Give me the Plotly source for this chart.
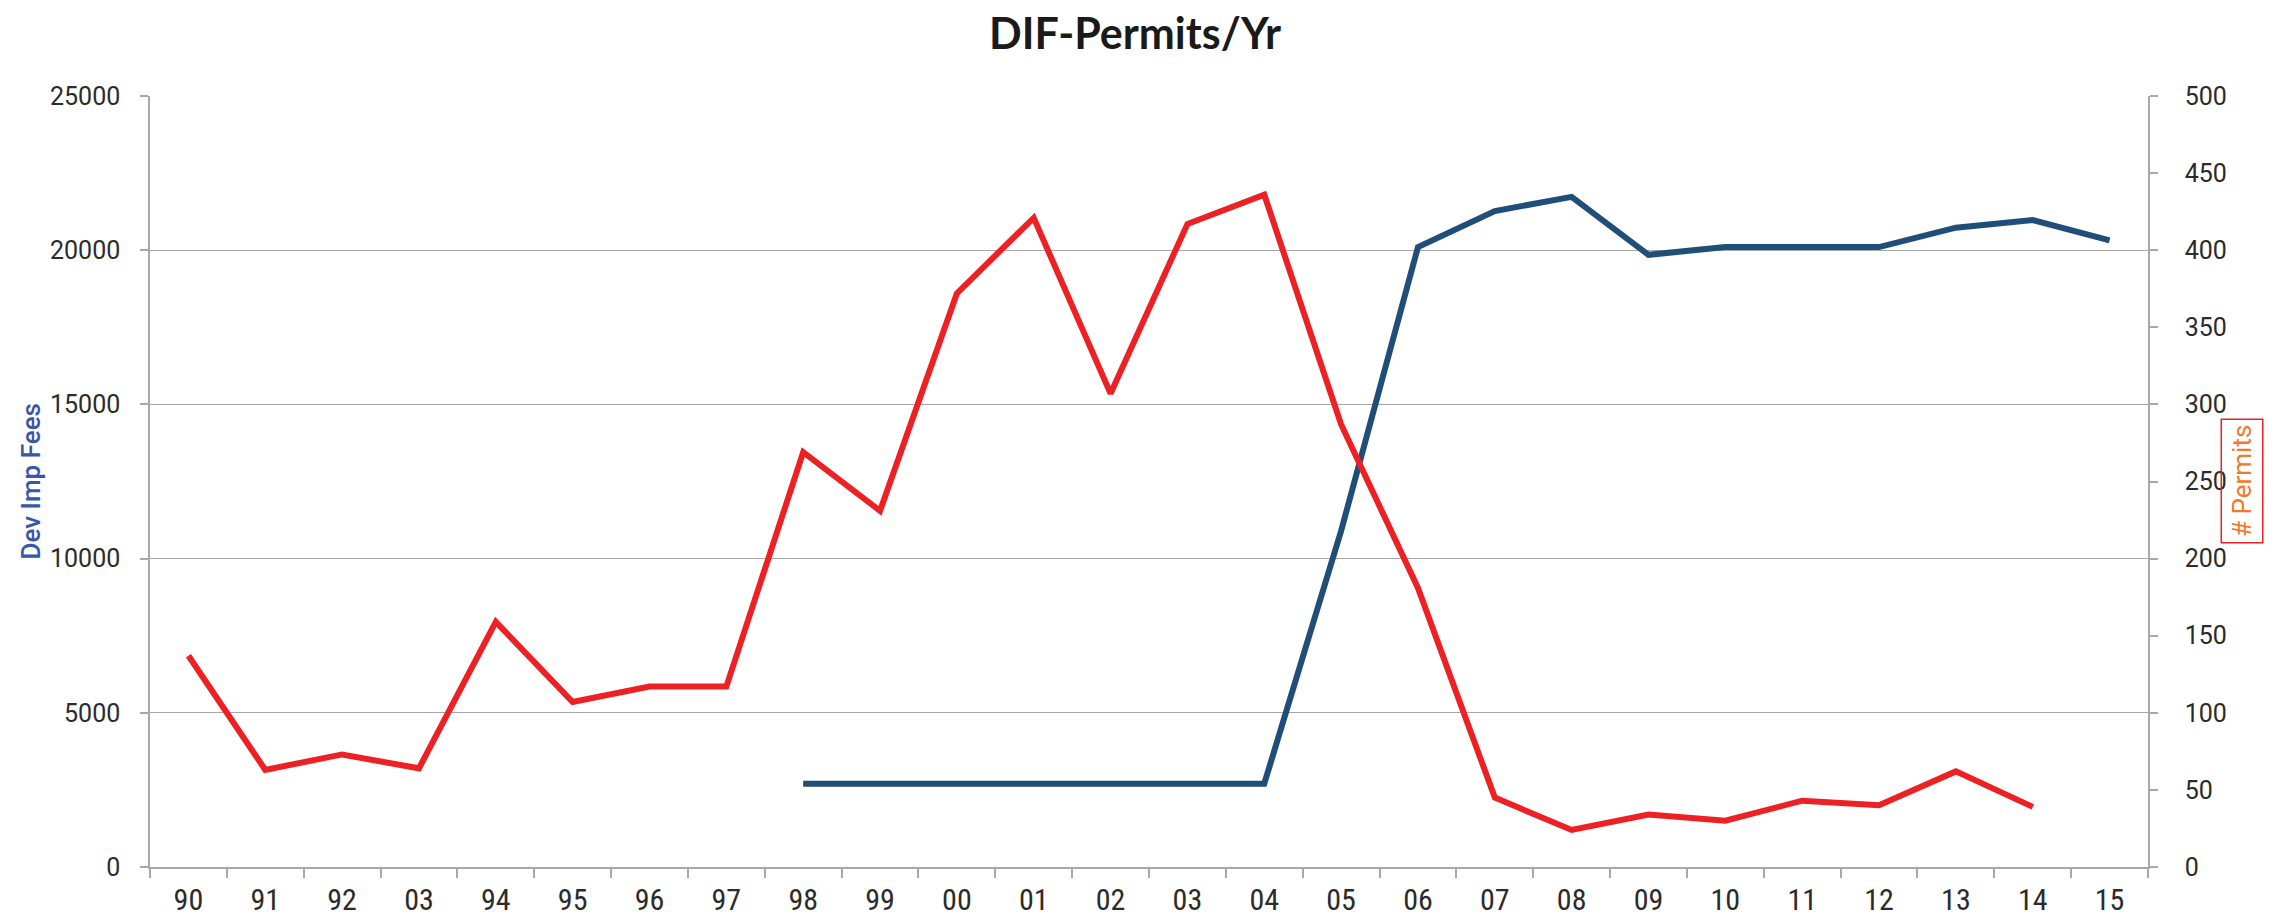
import plotly.graph_objects as go

# ---- data ----
year_labels = ["90", "91", "92", "03", "94", "95", "96", "97", "98", "99", "00", "01", "02",
               "03", "04", "05", "06", "07", "08", "09", "10", "11", "12", "13", "14", "15"]
permits = [137, 63, 73, 64, 159, 107, 117, 117, 269, 231, 372, 421, 307, 417, 436,
           287, 181, 45, 24, 34, 30, 43, 40, 62, 39, None]
dev_imp_fees = [None, None, None, None, None, None, None, None,
                2700, 2700, 2700, 2700, 2700, 2700, 2700,
                10900, 20100, 21270, 21730, 19850, 20100, 20100, 20100, 20730, 20980, 20320]
fee_ticks = [0, 5000, 10000, 15000, 20000, 25000]
permit_ticks = [0, 50, 100, 150, 200, 250, 300, 350, 400, 450, 500]

x_pos = list(range(len(year_labels)))
boundaries = [i - 0.5 for i in range(len(year_labels) + 1)]

GRAY = "#a8a8a8"
TXT = "#2b2b2b"
RED = "#ed2024"
BLUE = "#1f4e79"

W, H = 2269, 911
L, T, R, B = 142, 88, 129, 52
PW = W - L - R

fig = go.Figure()
fig.add_trace(go.Scatter(x=x_pos, y=dev_imp_fees, mode="lines", name="Dev Imp Fees",
                         line=dict(color=BLUE, width=6), yaxis="y"))
fig.add_trace(go.Scatter(x=x_pos, y=permits, mode="lines", name="# Permits",
                         line=dict(color=RED, width=6), yaxis="y2"))

fig.update_layout(
    width=W, height=H,
    margin=dict(l=L, r=R, t=T, b=B, autoexpand=False),
    paper_bgcolor="white", plot_bgcolor="white",
    showlegend=False,
    title=dict(text="DIF-Permits/Yr", x=(1135 - 8) / W, xanchor="center", xref="container",
               y=1 - 26 / H, yanchor="middle", yref="container",
               font=dict(family="Lato", size=43, color="#1a1a1a", weight="bold")),
    xaxis=dict(range=[-0.5, 25.5], tickmode="array", tickvals=x_pos, ticktext=year_labels,
               ticks="", showgrid=False, zeroline=False, automargin=False,
               showline=True, linecolor=GRAY, linewidth=1.5,
               ticklabelstandoff=5,
               tickfont=dict(family="Liberation Sans Narrow, Roboto Condensed, Roboto", size=30, color=TXT),
               minor=dict(tickmode="array", tickvals=boundaries, ticks="outside", ticklen=9,
                          tickcolor=GRAY, tickwidth=1.5, showgrid=False)),
    yaxis=dict(range=[0, 25000], tickmode="array", tickvals=fee_ticks,
               ticktext=[str(v) for v in fee_ticks], automargin=False,
               showgrid=True, gridcolor=GRAY, gridwidth=1.3, zeroline=False,
               showline=True, linecolor=GRAY, linewidth=1.5,
               ticks="outside", ticklen=8, tickcolor=GRAY, tickwidth=1.5,
               ticklabelstandoff=15,
               tickfont=dict(family="Roboto", size=25, color=TXT)),
    yaxis2=dict(range=[0, 500], tickmode="array", tickvals=permit_ticks,
                ticktext=[str(v) for v in permit_ticks], automargin=False,
                overlaying="y", side="right", showgrid=False, zeroline=False,
                showline=True, linecolor=GRAY, linewidth=1.5,
                ticks="outside", ticklen=8, tickcolor=GRAY, tickwidth=1.5,
                ticklabelstandoff=22,
                tickfont=dict(family="Roboto", size=25, color=TXT)),
)

fig.add_annotation(text="Dev Imp Fees", xref="paper", yref="paper",
                   x=(30 - 150) / PW, y=0.5, xanchor="center", yanchor="middle",
                   textangle=-90, showarrow=False,
                   font=dict(family="Roboto", size=26, color="#3a56a8", weight=500))
fig.add_annotation(text="# Permits", xref="paper", yref="paper",
                   x=(2242 - 150) / PW, y=0.5, xanchor="center", yanchor="middle",
                   textangle=-90, showarrow=False,
                   bordercolor=RED, borderwidth=1.5, borderpad=5,
                   font=dict(family="Roboto", size=26, color="#f07a2a"))

fig.write_html("out.html")
